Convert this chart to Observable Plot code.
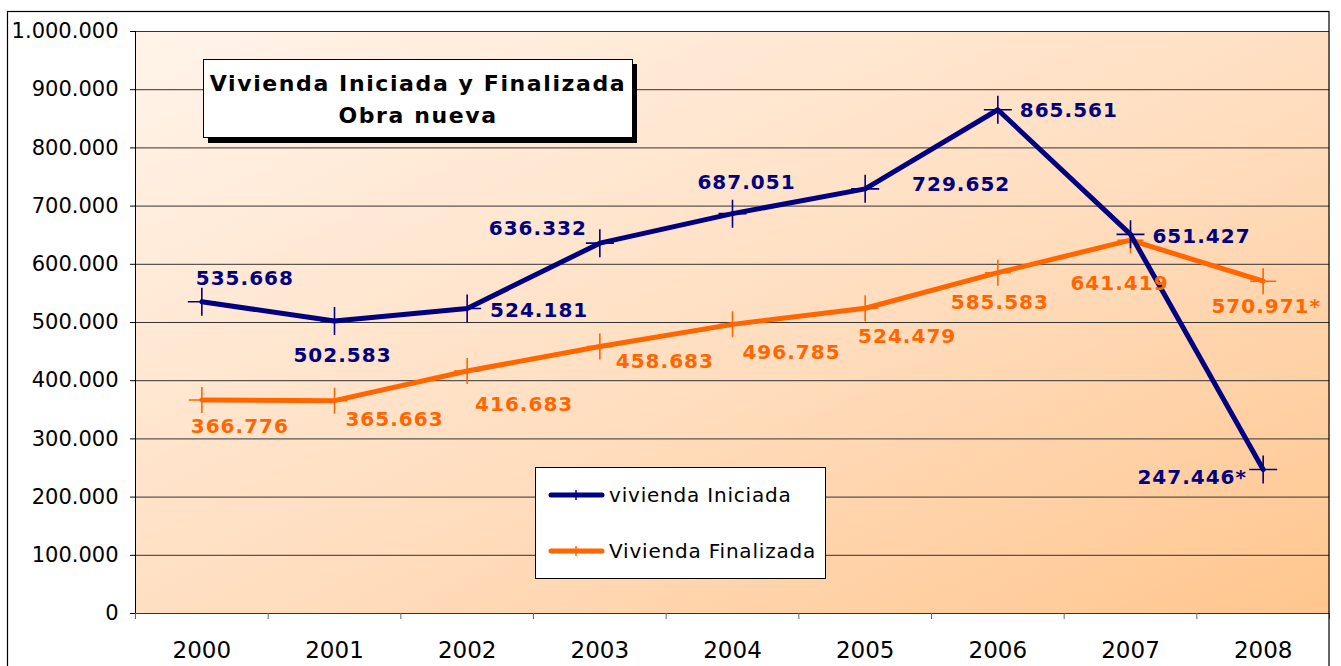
<!DOCTYPE html>
<html>
<head>
<meta charset="utf-8">
<script src="https://cdn.jsdelivr.net/npm/d3@7"></script>
<script src="https://cdn.jsdelivr.net/npm/@observablehq/plot@0.6"></script>
<style>
  html, body { margin: 0; padding: 0; background: #fff; }
  #chart { width: 1341px; height: 666px; overflow: hidden; }
</style>
</head>
<body>
<div id="chart"></div>
<script>
// ---- data ----
const years = [2000, 2001, 2002, 2003, 2004, 2005, 2006, 2007, 2008];
const iniciada = [535668, 502583, 524181, 636332, 687051, 729652, 865561, 651427, 247446];
const finalizada = [366776, 365663, 416683, 458683, 496785, 524479, 585583, 641419, 570971];
const provisional = [false, false, false, false, false, false, false, false, true];
const seriesNames = ["vivienda Iniciada", "Vivienda Finalizada"];
const yTicks = [0, 100000, 200000, 300000, 400000, 500000, 600000, 700000, 800000, 900000, 1000000];
const titleLines = ["Vivienda Iniciada y Finalizada", "Obra nueva"];

// ---- label placement (layout, not data) ----
const iniLabelDx = [43, 8, 72, -62, 14, 96, 71, 71, -71];
const iniLabelDy = [-23, 35, 2, -15, -31, -4, 1, 2, 8];
const finLabelDx = [38, 60, 57, 65, 59, 42, 2, -11, 3];
const finLabelDy = [27, 19, 34, 15, 28, 28, 30, 43, 25];

const NAVY = "#000080";
const ORANGE = "#FF6600";
const FONT = "DejaVu Sans, Verdana, sans-serif";

const locale = d3.formatLocale({decimal: ",", thousands: ".", grouping: [3], currency: ["", " €"]});
const fmt = locale.format(",");

const rows = (vals, name, dxs, dys) => years.map((yr, i) => ({
  year: yr, value: vals[i], series: name,
  label: fmt(vals[i]) + (provisional[i] ? "*" : ""),
  dx: dxs[i], dy: dys[i]
}));
const ini = rows(iniciada, seriesNames[0], iniLabelDx, iniLabelDy);
const fin = rows(finalizada, seriesNames[1], finLabelDx, finLabelDy);

const boundaries = years.map(y => y - 0.5).concat([years[years.length - 1] + 0.5]);

const thinPlus = {
  draw(ctx, size) {
    const r = Math.sqrt(size / Math.PI);
    ctx.moveTo(-r, 0); ctx.lineTo(r, 0);
    ctx.moveTo(0, -r); ctx.lineTo(0, r);
  }
};

const labelMarks = (data, color) => data.map(d =>
  Plot.text([d], {x: "year", y: "value", text: "label", dx: d.dx, dy: d.dy,
    fill: color, fontWeight: "bold", fontSize: 20, textAnchor: "middle", fontFamily: FONT})
);

const plot = Plot.plot({
  width: 1341,
  height: 666,
  marginLeft: 135,
  marginRight: 12,
  marginTop: 31,
  marginBottom: 53,
  style: {fontFamily: FONT, background: "transparent", color: "#000", overflow: "visible"},
  x: {type: "linear", domain: [boundaries[0], boundaries[boundaries.length - 1]], label: null},
  y: {domain: [0, 1000000], label: null},
  marks: [
    Plot.frame({fill: "url(#bgGrad)", stroke: "none"}),
    Plot.gridY(yTicks, {stroke: "#333", strokeOpacity: 1, strokeWidth: 1}),
    Plot.ruleY([0], {stroke: "#333"}),
    Plot.ruleX([boundaries[0]], {stroke: "#000"}),
    Plot.axisY({ticks: yTicks, tickFormat: fmt, tickSize: 5, tickPadding: 12, fontSize: 21, stroke: "#000", label: null}),
    Plot.axisX({ticks: boundaries, tickSize: 6, tickFormat: () => "", stroke: "#666", label: null}),
    Plot.axisX({ticks: years, tickSize: 0, tickPadding: 28, fontSize: 23, tickFormat: d => String(d), label: null}),
    Plot.line(fin, {x: "year", y: "value", stroke: ORANGE, strokeWidth: 5}),
    Plot.dot(fin, {x: "year", y: "value", symbol: thinPlus, r: 13, stroke: ORANGE, strokeWidth: 1.6, fill: "none"}),
    Plot.line(ini, {x: "year", y: "value", stroke: NAVY, strokeWidth: 5}),
    Plot.dot(ini, {x: "year", y: "value", symbol: thinPlus, r: 14, stroke: NAVY, strokeWidth: 1.6, fill: "none"}),
    ...labelMarks(fin, ORANGE),
    ...labelMarks(ini, NAVY)
  ]
});

document.getElementById("chart").appendChild(plot);

const svg = d3.select(plot);
// gradient
const defs = svg.insert("defs", ":first-child");
const grad = defs.append("linearGradient").attr("id", "bgGrad")
  .attr("x1", "0").attr("y1", "0").attr("x2", "1").attr("y2", "1");
grad.append("stop").attr("offset", "0%").attr("stop-color", "#FFF4EA");
grad.append("stop").attr("offset", "55%").attr("stop-color", "#FFDDBE");
grad.append("stop").attr("offset", "100%").attr("stop-color", "#FFC68E");

// letter spacing on data labels
svg.selectAll("g[aria-label='text'] text").attr("letter-spacing", 1);

// outer chart frame
svg.append("rect").attr("x", 7.5).attr("y", 11.5).attr("width", 1321.5).attr("height", 700)
  .attr("fill", "none").attr("stroke", "#000").attr("stroke-width", 1.2);

// title box
const tb = svg.append("g").attr("font-family", FONT);
tb.append("rect").attr("x", 208).attr("y", 64).attr("width", 429).attr("height", 79).attr("fill", "#000");
tb.append("rect").attr("x", 203.5).attr("y", 59.5).attr("width", 429).attr("height", 78)
  .attr("fill", "#fff").attr("stroke", "#000").attr("stroke-width", 1);
tb.selectAll("text.t").data(titleLines).join("text")
  .attr("x", 418).attr("y", (d, i) => 91 + i * 32)
  .attr("text-anchor", "middle").attr("font-weight", "bold").attr("font-size", 22)
  .attr("letter-spacing", 1.6)
  .attr("fill", "#000").text(d => d);

// legend box
const lg = svg.append("g").attr("font-family", FONT);
lg.append("rect").attr("x", 535.5).attr("y", 467.5).attr("width", 290).attr("height", 111)
  .attr("fill", "#fff").attr("stroke", "#000").attr("stroke-width", 1);
const legendColors = [NAVY, ORANGE];
seriesNames.forEach((name, i) => {
  const cy = 495 + i * 56;
  lg.append("line").attr("x1", 551).attr("x2", 602).attr("y1", cy).attr("y2", cy)
    .attr("stroke", legendColors[i]).attr("stroke-width", 5).attr("stroke-linecap", "round");
  lg.append("line").attr("x1", 576).attr("x2", 576).attr("y1", cy - 5).attr("y2", cy + 5)
    .attr("stroke", legendColors[i]).attr("stroke-width", 1.5);
  lg.append("text").attr("x", 609).attr("y", cy + 7).attr("font-size", 20)
    .attr("text-anchor", "start").attr("letter-spacing", 0.8)
    .attr("fill", "#000").text(name);
});
</script>
</body>
</html>
